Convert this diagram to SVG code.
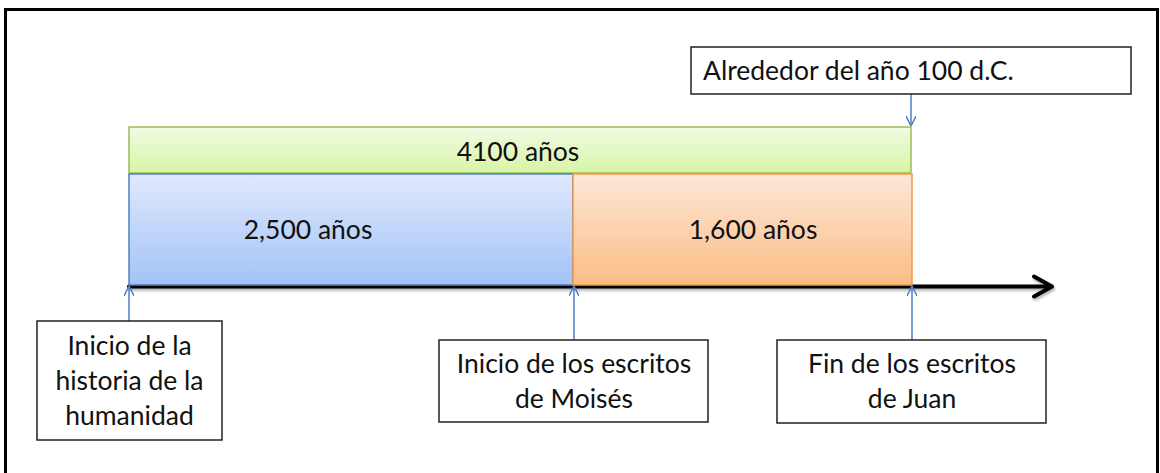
<svg xmlns="http://www.w3.org/2000/svg" width="1160" height="473" viewBox="0 0 1160 473">
<style>
  text { font-family: Lato, "Liberation Sans", sans-serif; font-size: 26.5px; fill: #111; }
  .box { fill: #fff; stroke: #222; stroke-width: 1.5; }
  .conn { stroke: #4f81bd; stroke-width: 1.5; fill: none; marker-end: url(#openArrow); }
</style>
<defs>
  <linearGradient id="gGreen" x1="0" y1="0" x2="0" y2="1">
    <stop offset="0" stop-color="#f1fbe3"/>
    <stop offset="1" stop-color="#d7f5a6"/>
  </linearGradient>
  <linearGradient id="gBlue" x1="0" y1="0" x2="0" y2="1">
    <stop offset="0" stop-color="#dfe9fd"/>
    <stop offset="1" stop-color="#a3c2f7"/>
  </linearGradient>
  <linearGradient id="gOrange" x1="0" y1="0" x2="0" y2="1">
    <stop offset="0" stop-color="#fde8d7"/>
    <stop offset="1" stop-color="#fbbc86"/>
  </linearGradient>
  <marker id="openArrow" viewBox="0 0 10 10" refX="10" refY="5" markerWidth="10" markerHeight="10" markerUnits="userSpaceOnUse" orient="auto">
    <path d="M0,0 L10,5 L0,10" fill="none" stroke="#4f81bd" stroke-width="1.5"/>
  </marker>
  <filter id="shadow" filterUnits="userSpaceOnUse" x="100" y="260" width="980" height="50">
    <feGaussianBlur in="SourceAlpha" stdDeviation="1.5"/>
    <feOffset dx="1" dy="2" result="b"/>
    <feComponentTransfer><feFuncA type="linear" slope="0.35"/></feComponentTransfer>
    <feMerge><feMergeNode/><feMergeNode in="SourceGraphic"/></feMerge>
  </filter>
</defs>

<rect id="frame" x="5.5" y="9.5" width="1152" height="480" fill="#fff" stroke="#000" stroke-width="3"/>

<g id="axis" filter="url(#shadow)" stroke="#000" stroke-width="4" fill="none" stroke-linecap="round" stroke-linejoin="round">
  <line x1="129" y1="286.5" x2="1050" y2="286.5"/>
  <path d="M1034,276.5 L1052,286.5 L1034,296.5"/>
</g>

<g id="bar-total">
  <rect x="129" y="127" width="782" height="46" fill="url(#gGreen)" stroke="#9bbb59" stroke-width="1.5"/>
  <text x="518" y="161" text-anchor="middle">4100 años</text>
</g>
<g id="bar-2500">
  <rect x="129" y="174" width="444" height="111" fill="url(#gBlue)" stroke="#4f81bd" stroke-width="1.5"/>
  <text x="308" y="239" text-anchor="middle">2,500 años</text>
</g>
<g id="bar-1600">
  <rect x="573" y="174" width="339" height="111" fill="url(#gOrange)" stroke="#f79646" stroke-width="1.5"/>
  <text x="753" y="239" text-anchor="middle">1,600 años</text>
</g>

<g id="connectors">
  <line class="conn" x1="911" y1="94" x2="911" y2="126"/>
  <line class="conn" x1="129" y1="321" x2="129" y2="286"/>
  <line class="conn" x1="574" y1="340" x2="574" y2="286"/>
  <line class="conn" x1="912" y1="340" x2="912" y2="286"/>
</g>

<g id="label-100dc">
  <rect class="box" x="691" y="47" width="440" height="47"/>
  <text x="703" y="80">Alrededor del año 100 d.C.</text>
</g>
<g id="label-humanidad">
  <rect class="box" x="37" y="321" width="185" height="119"/>
  <text x="129.5" y="355" text-anchor="middle">Inicio de la</text>
  <text x="129.5" y="390" text-anchor="middle">historia de la</text>
  <text x="129.5" y="425" text-anchor="middle">humanidad</text>
</g>
<g id="label-moises">
  <rect class="box" x="439" y="340" width="269" height="82"/>
  <text x="574" y="373" text-anchor="middle">Inicio de los escritos</text>
  <text x="574" y="408" text-anchor="middle">de Moisés</text>
</g>
<g id="label-juan">
  <rect class="box" x="777" y="340" width="269" height="83"/>
  <text x="912" y="373" text-anchor="middle">Fin de los escritos</text>
  <text x="912" y="408" text-anchor="middle">de Juan</text>
</g>
</svg>
